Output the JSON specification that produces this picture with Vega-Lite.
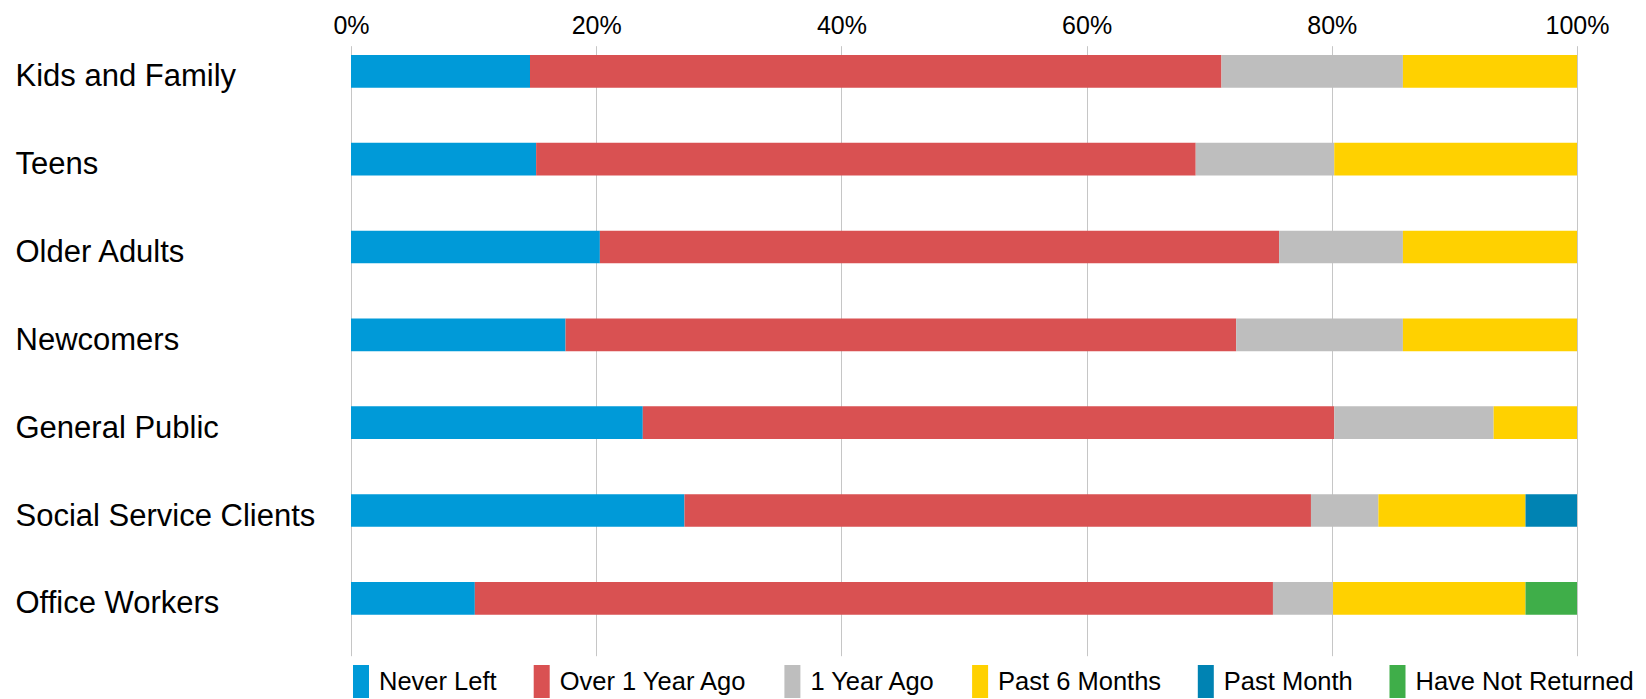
{
  "$schema": "https://vega.github.io/schema/vega-lite/v6.json",
  "width": 1226,
  "height": 610,
  "autosize": {"type": "none"},
  "padding": {"left": 351, "top": 45.7, "right": 69, "bottom": 43.3},
  "background": "white",
  "config": {"view": {"stroke": null}, "font": "Liberation Sans"},
  "data": {"values": [
    {"group": "Kids and Family", "status": "Never Left", "code": 1, "pct": 14.6},
    {"group": "Kids and Family", "status": "Over 1 Year Ago", "code": 2, "pct": 56.4},
    {"group": "Kids and Family", "status": "1 Year Ago", "code": 3, "pct": 14.8},
    {"group": "Kids and Family", "status": "Past 6 Months", "code": 4, "pct": 14.2},
    {"group": "Teens", "status": "Never Left", "code": 1, "pct": 15.1},
    {"group": "Teens", "status": "Over 1 Year Ago", "code": 2, "pct": 53.8},
    {"group": "Teens", "status": "1 Year Ago", "code": 3, "pct": 11.3},
    {"group": "Teens", "status": "Past 6 Months", "code": 4, "pct": 19.8},
    {"group": "Older Adults", "status": "Never Left", "code": 1, "pct": 20.3},
    {"group": "Older Adults", "status": "Over 1 Year Ago", "code": 2, "pct": 55.4},
    {"group": "Older Adults", "status": "1 Year Ago", "code": 3, "pct": 10.1},
    {"group": "Older Adults", "status": "Past 6 Months", "code": 4, "pct": 14.2},
    {"group": "Newcomers", "status": "Never Left", "code": 1, "pct": 17.5},
    {"group": "Newcomers", "status": "Over 1 Year Ago", "code": 2, "pct": 54.7},
    {"group": "Newcomers", "status": "1 Year Ago", "code": 3, "pct": 13.6},
    {"group": "Newcomers", "status": "Past 6 Months", "code": 4, "pct": 14.2},
    {"group": "General Public", "status": "Never Left", "code": 1, "pct": 23.8},
    {"group": "General Public", "status": "Over 1 Year Ago", "code": 2, "pct": 56.4},
    {"group": "General Public", "status": "1 Year Ago", "code": 3, "pct": 13.0},
    {"group": "General Public", "status": "Past 6 Months", "code": 4, "pct": 6.8},
    {"group": "Social Service Clients", "status": "Never Left", "code": 1, "pct": 27.2},
    {"group": "Social Service Clients", "status": "Over 1 Year Ago", "code": 2, "pct": 51.1},
    {"group": "Social Service Clients", "status": "1 Year Ago", "code": 3, "pct": 5.5},
    {"group": "Social Service Clients", "status": "Past 6 Months", "code": 4, "pct": 12.0},
    {"group": "Social Service Clients", "status": "Past Month", "code": 5, "pct": 4.2},
    {"group": "Office Workers", "status": "Never Left", "code": 1, "pct": 10.1},
    {"group": "Office Workers", "status": "Over 1 Year Ago", "code": 2, "pct": 65.1},
    {"group": "Office Workers", "status": "1 Year Ago", "code": 3, "pct": 4.9},
    {"group": "Office Workers", "status": "Past 6 Months", "code": 4, "pct": 15.7},
    {"group": "Office Workers", "status": "Have Not Returned", "code": 6, "pct": 4.2}
  ]},
  "mark": {"type": "bar"},
  "encoding": {
    "y": {
      "field": "group", "type": "nominal",
      "sort": ["Kids and Family", "Teens", "Older Adults", "Newcomers", "General Public", "Social Service Clients", "Office Workers"],
      "scale": {"paddingInner": 0.6277, "paddingOuter": 0.2864, "align": 0.185},
      "axis": {"title": null, "orient": "left", "ticks": false, "domain": false, "grid": false,
        "labelAlign": "left", "labelPadding": 336, "labelFontSize": 31, "labelColor": "#000",
        "labelLimit": 0, "labelBaseline": "alphabetic", "labelOffset": 15}
    },
    "x": {
      "field": "pct", "type": "quantitative", "stack": "normalize",
      "scale": {"domain": [0, 1]},
      "axis": {"orient": "top", "title": null, "format": ".0%", "values": [0, 0.2, 0.4, 0.6, 0.8, 1],
        "ticks": false, "domain": false, "grid": true, "gridColor": "#c6c6c6", "gridWidth": 1,
        "labelFontSize": 25, "labelColor": "#000", "labelPadding": 12.4, "labelBaseline": "alphabetic", "labelFlush": false}
    },
    "order": {"field": "code", "type": "quantitative", "sort": "ascending"},
    "color": {
      "field": "status", "type": "nominal",
      "sort": ["Never Left", "Over 1 Year Ago", "1 Year Ago", "Past 6 Months", "Past Month", "Have Not Returned"],
      "scale": {
        "domain": ["Never Left", "Over 1 Year Ago", "1 Year Ago", "Past 6 Months", "Past Month", "Have Not Returned"],
        "range": ["#009ad8", "#d95152", "#bebebe", "#ffd100", "#0083b3", "#3fae49"]
      },
      "legend": {
        "orient": "none", "legendX": -6.5, "legendY": 619.3, "direction": "horizontal", "columns": 6,
        "title": null, "symbolType": "M-0.485,-1H0.485V1H-0.485Z", "symbolSize": 1089,
        "symbolStrokeWidth": 0, "symbolOpacity": 1, "labelFontSize": 25.5, "labelColor": "#000",
        "labelOffset": 1.5, "columnPadding": 27.7, "padding": 0, "labelLimit": 0
      }
    }
  }
}
